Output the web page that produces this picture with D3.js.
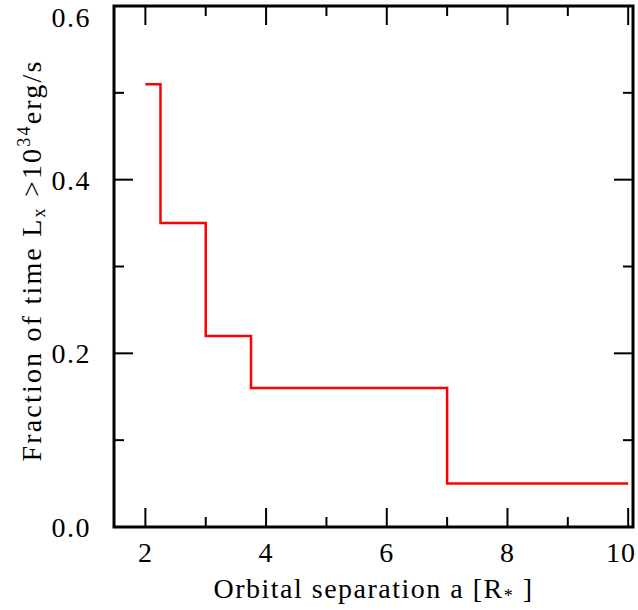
<!DOCTYPE html>
<html>
<head>
<meta charset="utf-8">
<script src="https://cdn.jsdelivr.net/npm/d3@7"></script>
<style>
  body { margin: 0; background: white; }
</style>
</head>
<body>
<svg id="chart"></svg>
<script>
// Step edges (orbital separation) and the fraction in each bin
const binEdges = [2, 2.25, 3, 3.75, 7, 10];
const fractions = [0.51, 0.35, 0.22, 0.16, 0.05];

const xMajorTicks = [2, 4, 6, 8, 10];
const xMinorTicks = [3, 5, 7, 9];
const yMajorTicks = [0, 0.2, 0.4, 0.6];
const yMinorTicks = [0.1, 0.3, 0.5];

const width = 638, height = 610;
const margin = { top: 6, right: 5, bottom: 83, left: 114 };
const innerW = width - margin.left - margin.right;
const innerH = height - margin.top - margin.bottom;
const serif = "'Liberation Serif', Tinos, 'Times New Roman', Times, serif";

const svg = d3.select("#chart")
    .attr("width", width)
    .attr("height", height)
    .attr("font-family", serif);

const g = svg.append("g")
    .attr("transform", `translate(${margin.left},${margin.top})`);

const x = d3.scaleLinear().domain([1.48, 10.08]).range([0, innerW]);
const y = d3.scaleLinear().domain([0, 0.6]).range([innerH, 0]);

// Step line data: each bin gives a flat segment
let pts = [];
fractions.forEach((f, i) => {
  pts.push([binEdges[i], f]);
  pts.push([binEdges[i + 1], f]);
});

g.append("path")
    .datum(pts)
    .attr("fill", "none")
    .attr("stroke", "#ff0000")
    .attr("stroke-width", 2.5)
    .attr("d", d3.line().x(d => x(d[0])).y(d => y(d[1])));

// Ticks (inward, on all four sides)
const majorLen = 19, minorLen = 10;
function ticks(vals, len, side) {
  let horiz = side === "bottom" || side === "top";
  g.append("g").selectAll("line")
      .data(vals)
    .join("line")
      .attr("stroke", "black")
      .attr("stroke-width", 2)
      .attr("x1", d => horiz ? x(d) : (side === "left" ? 0 : innerW))
      .attr("x2", d => horiz ? x(d) : (side === "left" ? len : innerW - len))
      .attr("y1", d => !horiz ? y(d) : (side === "bottom" ? innerH : 0))
      .attr("y2", d => !horiz ? y(d) : (side === "bottom" ? innerH - len : len));
}
["bottom", "top"].forEach(s => { ticks(xMajorTicks, majorLen, s); ticks(xMinorTicks, minorLen, s); });
["left", "right"].forEach(s => { ticks(yMajorTicks, majorLen, s); ticks(yMinorTicks, minorLen, s); });

// Frame
g.append("rect")
    .attr("x", 0).attr("y", 0)
    .attr("width", innerW).attr("height", innerH)
    .attr("fill", "none")
    .attr("stroke", "black")
    .attr("stroke-width", 3);

// Tick labels (last x label and top y label are nudged inside the page)
g.append("g").selectAll("text")
    .data(xMajorTicks)
  .join("text")
    .attr("x", d => Math.min(x(d), width - margin.left - 17))
    .attr("y", innerH + 35)
    .attr("text-anchor", "middle")
    .attr("font-size", 28)
    .attr("letter-spacing", 1)
    .text(d => d);

g.append("g").selectAll("text")
    .data(yMajorTicks)
  .join("text")
    .attr("x", -23)
    .attr("y", d => Math.max(y(d) + 10, 21))
    .attr("text-anchor", "end")
    .attr("font-size", 28)
    .attr("letter-spacing", 1.5)
    .text(d => d3.format(".1f")(d));

// Axis titles
const xt = svg.append("text")
    .attr("x", margin.left + innerW / 2)
    .attr("y", 598)
    .attr("text-anchor", "middle")
    .attr("font-size", 28)
    .attr("letter-spacing", 1.5);
xt.append("tspan").text("Orbital separation a [R");
xt.append("tspan").attr("font-size", 18).attr("dy", 4).text("*");
xt.append("tspan").attr("dy", -4).text(" ]");

const yt = svg.append("text")
    .attr("transform", `translate(41,${margin.top + innerH / 2 - 6}) rotate(-90)`)
    .attr("text-anchor", "middle")
    .attr("font-size", 28)
    .attr("letter-spacing", 2.2);
yt.append("tspan").text("Fraction of time L");
yt.append("tspan").attr("font-size", 18).attr("dy", 4).text("x");
yt.append("tspan").attr("dy", -4).text(" >10");
yt.append("tspan").attr("font-size", 18).attr("dy", -11).text("34");
yt.append("tspan").attr("dy", 11).text("erg/s");
</script>
</body>
</html>
